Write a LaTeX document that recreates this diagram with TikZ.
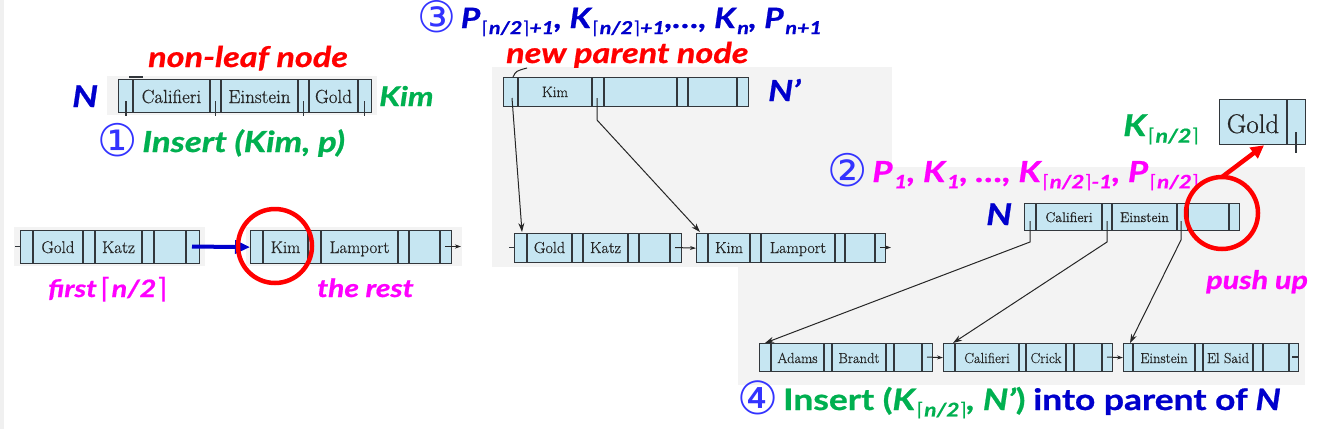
\documentclass[tikz,border=0pt]{standalone}
\usepackage{fontspec}
\usepackage{graphicx}
\usetikzlibrary{arrows.meta}
\newfontfamily\annf{Lato}[FakeStretch=1.2, FakeBold=0.8]
\newfontfamily\djv{DejaVu Sans}
\newfontfamily\keyf{Latin Modern Roman}[FakeBold=0.5]
\definecolor{annblue}{RGB}{0,0,204}
\definecolor{circblue}{RGB}{51,51,255}
\definecolor{anngreen}{RGB}{0,176,80}
\definecolor{annmag}{RGB}{255,0,255}
\definecolor{annred}{RGB}{255,0,0}
\definecolor{boxblue}{RGB}{198,230,242}
\definecolor{linec}{RGB}{50,55,60}
\definecolor{panelgray}{RGB}{243,243,243}
\newcommand\lc{{\djv\mdseries\upshape\char"2308}}
\newcommand\rc{{\djv\mdseries\upshape\char"2309}}
\newcommand\subs[1]{\raisebox{-0.22em}{\kern0.06em\scalebox{0.64}{#1}}}
\newcommand\cn[1]{\raisebox{-0.16em}{\scalebox{1.55}{\djv\mdseries\upshape\color{circblue}#1}}}
\newcommand\fs[1]{\fontsize{#1}{#1}\selectfont}
\newcommand\af[1]{\annf\bfseries\itshape\fs{#1}}
\newcommand\bpbox[6]{%
  \node[bx, minimum width={(#4-#2)*1pt}, minimum height={(#5-#3)*1pt}] (#1) at (#2,#3) {};
  \foreach \s in {#6} \draw[sep] (\s,#3) -- (\s,#5);}
\newcommand\kt[5]{\node[key, font=\keyf\fs{#5}] (#1) at (#2,#3) {#4};}
\tikzset{
  panel/.style={fill=panelgray, draw=none},
  bx/.style={draw=linec, fill=boxblue, line width=1.3pt, inner sep=0pt, anchor=north west},
  sep/.style={draw=linec, line width=1.3pt},
  key/.style={inner sep=0pt, anchor=base, text=black!85},
  ann/.style={inner sep=0pt, anchor=base west},
  ptr/.style={draw=black!85, line width=1pt, -{Stealth[length=9pt,width=6pt]}},
  nxt/.style={draw=black!85, line width=1pt, -{Stealth[length=6pt,width=4pt]}},
  tick/.style={draw=linec, line width=1.2pt},
  ring/.style={draw=annred, line width=4.5pt},
}
\begin{document}
\begin{tikzpicture}[x=1pt,y=-1pt]
\useasboundingbox (0,0) rectangle (1333,429);
\fill[white] (0,0) rectangle (1333,429);
% panels
\fill[gray!12] (0,0) rectangle (4,429);
\fill[panel] (107,76) rectangle (377,115);
\fill[panel] (14,227) rectangle (205,266);
\fill[panel] (246,227) rectangle (462,266);
\fill[panel] (492,67) rectangle (892,267);
\fill[panel] (890,167) rectangle (1305,385);
\fill[panel] (738,267) rectangle (892,385);

% top-left non-leaf node N
\bpbox{tlN}{118}{79}{371}{112}{133,210,221,298,309,358}
\kt{tlk1}{171.5}{103}{Califieri}{19}
\kt{tlk2}{259.5}{103}{Einstein}{19}
\kt{tlk3}{333.5}{103}{Gold}{19}
\foreach \x in {126,215.5,303.5,364.5} \draw[tick] (\x,101) -- (\x,116);
\draw[tick] (129,77) -- (143,77);

% N' (new parent node)
\bpbox{np}{503}{77}{748}{106}{518,592,604,677,688,737}
\kt{npk1}{555}{97}{Kim}{15}
\draw[draw=black!85, line width=1pt] (513,77) .. controls (516,71) .. (527,68);

% middle leaves
\bpbox{ml1}{514}{233}{681}{262}{527,572,583,628,639,670}
\kt{ml1k1}{549.5}{253}{Gold}{16}
\kt{ml1k2}{605.5}{253}{Katz}{16}
\bpbox{ml2}{696}{233}{885}{262}{708,750,761,835,845,875}
\kt{ml2k1}{729}{253}{Kim}{16}
\kt{ml2k2}{798}{253}{Lamport}{16}
\draw[tick] (509,247.5) -- (514,247.5);
\coordinate (ml1s) at (675,247.5);
\coordinate (ml2e) at (891,247.5);
\draw[nxt] (ml1s) -- (ml2.west);
\draw[nxt] (880,247.5) -- (ml2e);

% left leaves
\bpbox{ll1}{20}{230}{199}{263}{33,83,95,142,154,186}
\kt{ll1k1}{58}{253}{Gold}{17}
\kt{ll1k2}{118.5}{253}{Katz}{17}
\bpbox{ll2}{250}{230}{451}{263}{263,308,321,398,409,440}
\kt{ll2k1}{285.5}{253}{Kim}{17}
\kt{ll2k2}{359.5}{253}{Lamport}{17}
\draw[tick] (15,246.5) -- (20,246.5);
\coordinate (ll2e) at (461,246.5);
\draw[nxt] (445,246.5) -- (ll2e);
\coordinate (bl1) at (192,246.5);
\draw[annblue, line width=4pt, -{Triangle[length=15pt,width=13pt]}] (bl1) -- (ll2.west);

% right non-leaf node N
\bpbox{rN}{1024}{203}{1239}{230}{1036,1102,1112,1177,1188,1229}
\kt{rNk1}{1069}{222}{Califieri}{14}
\kt{rNk2}{1144.5}{222}{Einstein}{14}

% pushed-up key
\bpbox{gb}{1219}{99}{1305}{144}{1287}
\kt{gbk}{1253}{133}{Gold}{27}
\draw[tick] (1296,132) -- (1296,153);

% lower leaves
\bpbox{la}{759}{343}{932}{371}{771,824,832,886,894,922}
\kt{lak1}{797.5}{363}{Adams}{14.5}
\kt{lak2}{859}{363}{Brandt}{14.5}
\bpbox{lb}{943}{343}{1112}{371}{955,1019,1026,1066,1074,1102}
\kt{lbk1}{987}{363}{Califieri}{14.5}
\kt{lbk2}{1046}{363}{Crick}{14.5}
\bpbox{lc}{1123}{343}{1298}{371}{1133,1195,1203,1253,1263,1289}
\kt{lck1}{1164}{363}{Einstein}{14.5}
\kt{lck2}{1228}{363}{El Said}{14.5}
\coordinate (las) at (927,357);
\coordinate (lbs) at (1107,357);
\draw[nxt] (las) -- (lb.west);
\draw[nxt] (lbs) -- (lc.west);
\draw[tick] (1292,357) -- (1298,357);

% tree pointers
\coordinate (np0) at (512,98);
\coordinate (np1) at (597,98);
\coordinate (t1) at (522,232);
\coordinate (t2) at (700,232);
\draw[ptr] (np0) -- (t1);
\draw[ptr] (np1) -- (597,120) -- (t2);
\coordinate (rn0) at (1030,221);
\coordinate (rn1) at (1107,221);
\coordinate (rn2) at (1181,221);
\coordinate (u1) at (765,343);
\coordinate (u2) at (953,343);
\coordinate (u3) at (1130,343);
\draw[ptr] (rn0) -- (1030,242) -- (u1);
\draw[ptr] (rn1) -- (1107,242) -- (u2);
\draw[ptr] (rn2) -- (1181,240) -- (u3);

% annotations
\node[ann, text=annblue, font=\af{30}] (lblN1) at (72,107) {N};
\node[ann, text=anngreen, font=\af{27}] (lblKim) at (379,106) {Kim};
\node[ann, text=annred, font=\af{28.5}] (lblnl) at (148,67) {non-leaf node};
\node[ann, text=anngreen, font=\af{29}] (step1) at (97,152) {\cn{①}\,Insert (Kim, p)};
\node[ann, text=annblue, font=\af{28}] (step3) at (417,28) {\cn{③}\,P\subs{\lc n/2\rc+1}, K\subs{\lc n/2\rc+1},…, K\subs{n}, P\subs{n+1}};
\node[ann, text=annred, font=\af{28.5}] (lblnp) at (506,63) {new parent node};
\node[ann, text=annblue, font=\af{29}] (lblNp) at (768,101) {N’};
\node[ann, text=anngreen, font=\af{30}] (lblK) at (1123,136) {K\subs{\lc n/2\rc}};
\node[ann, text=annmag, font=\af{29}] (step2) at (827,182) {\cn{②}\,P\subs{1}, K\subs{1}, …, K\subs{\lc n/2\rc-1}, P\subs{\lc n/2\rc}};
\node[ann, text=annblue, font=\af{30}] (lblN2) at (986,225) {N};
\node[ann, text=annmag, font=\af{25.5}] (lblpush) at (1206,289) {push up};
\node[ann, text=annmag, font=\af{24}] (lblfirst) at (48,297) {first\,\raisebox{-0.05em}{\fs{28}\lc}n/2\raisebox{-0.05em}{\fs{28}\rc}};
\node[ann, text=annmag, font=\af{25}] (lblrest) at (317,297) {the rest};
\node[ann, text=anngreen, font=\af{29.5}] (step4) at (737,410) {\cn{④}\,{\upshape Insert (}K\subs{\lc n/2\rc}, N’{\upshape )} \textcolor{annblue}{{\upshape into parent of} N}};

% red highlights
\draw[ring] (275,246) circle (37);
\draw[ring] (1222,213) circle (36);
\coordinate (ra) at (1222,177);
\draw[annred, line width=4.5pt, -{Triangle[length=13pt,width=13pt]}] (ra) -- (gb.south west -| 1264,144);
\end{tikzpicture}
\end{document}
